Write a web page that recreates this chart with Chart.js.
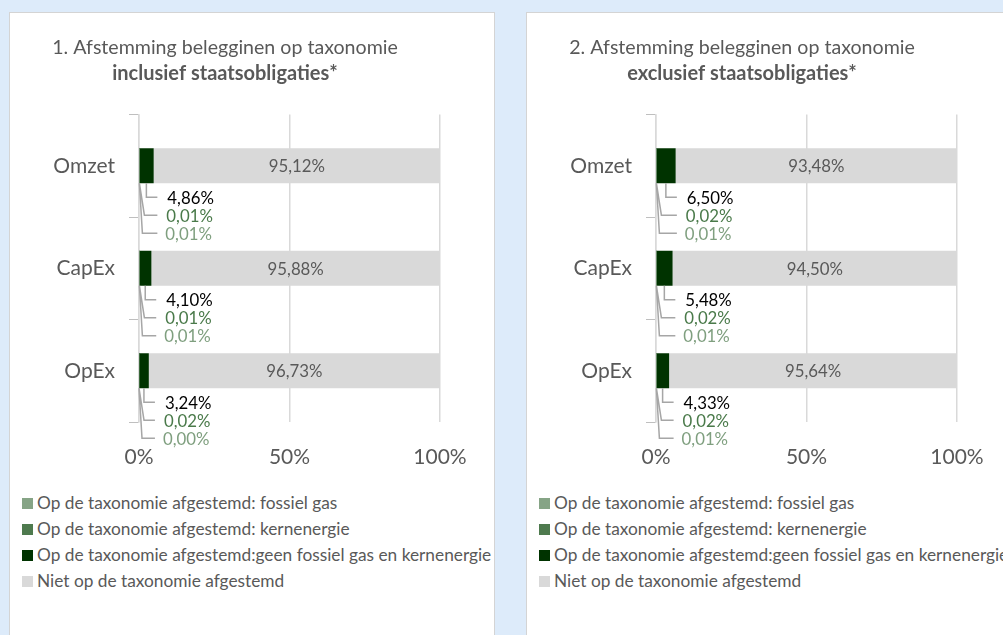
<!DOCTYPE html>
<html>
<head>
<meta charset="utf-8">
<script src="https://cdn.jsdelivr.net/npm/chart.js@4.4.1/dist/chart.umd.min.js"></script>
<style>
  html, body { margin: 0; padding: 0; }
  body { width: 1003px; height: 635px; overflow: hidden; position: relative; background: #ddebfa; font-family: Lato, sans-serif; }
  .card { position: absolute; top: 12px; width: 486px; height: 640px; background: #fff; border: 1px solid #d4d4d4; box-sizing: border-box; }
  .card canvas { position: absolute; left: 0; top: 0; }
  .legend { position: absolute; left: 12px; top: 477px; white-space: nowrap; color: #595959; font-size: 17.3px; }
  .legend div { height: 26px; line-height: 26px; display: flex; align-items: center; }
  .legend span.sw { display: inline-block; width: 11px; height: 11px; margin-right: 4px; }
</style>
</head>
<body>
<div class="card" style="left:9px"><canvas id="c1" width="484" height="460"></canvas><div class="legend" id="l1"></div></div>
<div class="card" style="left:526px"><canvas id="c2" width="484" height="460"></canvas><div class="legend" id="l2"></div></div>
<script>
// ---- data ----
const categories = ['Omzet', 'CapEx', 'OpEx'];
const seriesNames = [
  'Op de taxonomie afgestemd: fossiel gas',
  'Op de taxonomie afgestemd: kernenergie',
  'Op de taxonomie afgestemd:geen fossiel gas en kernenergie',
  'Niet op de taxonomie afgestemd'
];
const titles1 = ['1. Afstemming belegginen op taxonomie', 'inclusief staatsobligaties*'];
const titles2 = ['2. Afstemming belegginen op taxonomie', 'exclusief staatsobligaties*'];
const xTicks = [0, 50, 100];

// chart 1: inclusief staatsobligaties
const incFossiel = [0.01, 0.01, 0.00];
const incKern = [0.01, 0.01, 0.02];
const incGeen = [4.86, 4.10, 3.24];
const incNiet = [95.12, 95.88, 96.73];

// chart 2: exclusief staatsobligaties
const excFossiel = [0.01, 0.01, 0.01];
const excKern = [0.02, 0.02, 0.02];
const excGeen = [6.50, 5.48, 4.33];
const excNiet = [93.48, 94.50, 95.64];

// ---- styling ----
const colors = ['#86a486', '#4e7a4e', '#003300', '#d9d9d9'];
const labelColors = ['#7f9f7f', '#4a7a4a', '#000000', '#595959'];
const textGrey = '#595959';
const FONT = 'Lato';

function fmt(v) { return v.toFixed(2).replace('.', ',') + '%'; }

const labelPlugin = {
  id: 'stackLabels',
  afterDatasetsDraw(chart) {
    const ctx = chart.ctx;
    const mF = chart.getDatasetMeta(0), mG = chart.getDatasetMeta(2), mN = chart.getDatasetMeta(3);
    const ds = chart.data.datasets;
    ctx.save();
    ctx.font = '16.8px ' + FONT;
    ctx.textBaseline = 'middle';
    for (let i = 0; i < chart.data.labels.length; i++) {
      // grey segment label
      const en = mN.data[i];
      ctx.fillStyle = labelColors[3];
      ctx.textAlign = 'center';
      ctx.fillText(fmt(ds[3].data[i]), (en.x + en.base) / 2, en.y + 1);

      const eg = mG.data[i];
      const bottom = eg.y + eg.height / 2;
      const mid = (eg.x + eg.base) / 2;
      const start = (mF.data[i].x + mF.data[i].base) / 2;
      const lx = mid + 21;
      const ys = [bottom + 14, bottom + 32, bottom + 50];
      // leader lines
      ctx.strokeStyle = '#a6a6a6';
      ctx.lineWidth = 1.5;
      ctx.beginPath();
      ctx.moveTo(mid, bottom); ctx.lineTo(mid, ys[0]); ctx.lineTo(lx - 10, ys[0]);
      ctx.moveTo(start, bottom); ctx.lineTo(start + 5, ys[1]); ctx.lineTo(lx - 10, ys[1]);
      ctx.moveTo(start, bottom); ctx.lineTo(start + 3, ys[2]); ctx.lineTo(lx - 10, ys[2]);
      ctx.stroke();
      // texts
      ctx.textAlign = 'left';
      ctx.fillStyle = labelColors[2];
      ctx.fillText(fmt(ds[2].data[i]), lx, ys[0] + 1);
      ctx.fillStyle = labelColors[1];
      ctx.fillText(fmt(ds[1].data[i]), lx - 1, ys[1] + 1);
      ctx.fillStyle = labelColors[0];
      ctx.fillText(fmt(ds[0].data[i]), lx - 2, ys[2] + 1);
    }
    ctx.restore();
  }
};

function makeChart(id, titles, fossiel, kern, geen, niet) {
  const values = [fossiel, kern, geen, niet];
  return new Chart(document.getElementById(id), {
    type: 'bar',
    data: {
      labels: categories,
      datasets: seriesNames.map((n, k) => ({
        label: n,
        data: values[k],
        backgroundColor: colors[k],
        borderWidth: 0,
        categoryPercentage: 1,
        barPercentage: 0.34
      }))
    },
    options: {
      indexAxis: 'y',
      responsive: false,
      animation: false,
      devicePixelRatio: 1,
      layout: { padding: { left: 0, right: 54, top: 0, bottom: 0 } },
      plugins: {
        legend: { display: false },
        tooltip: { enabled: false },
        title: {
          display: true,
          text: titles[0],
          color: textGrey,
          font: { family: FONT, size: 19.6, weight: 'normal', lineHeight: 1.2 },
          padding: { top: 23, bottom: 2 }
        },
        subtitle: {
          display: true,
          text: titles[1],
          color: textGrey,
          font: { family: FONT, size: 20, weight: 'bold', lineHeight: 1.2 },
          padding: { top: 0, bottom: 29 }
        }
      },
      scales: {
        x: {
          stacked: true,
          min: 0,
          max: 100,
          afterBuildTicks(scale) { scale.ticks = xTicks.map(v => ({ value: v })); },
          afterFit(scale) { scale.height = 51; },
          ticks: {
            callback: v => v + '%',
            color: textGrey,
            font: { family: FONT, size: 21 },
            padding: 23,
            maxRotation: 0
          },
          grid: { color: '#d9d9d9', lineWidth: 1.5, drawTicks: false },
          border: { display: false }
        },
        y: {
          stacked: true,
          afterFit(scale) { scale.width = 129; },
          ticks: { color: textGrey, font: { family: FONT, size: 21 }, padding: 14 },
          grid: { offset: true, drawOnChartArea: false, drawTicks: true, tickLength: 10, color: '#bfbfbf', lineWidth: 1 },
          border: { display: true, color: '#d9d9d9', width: 1.5 }
        }
      }
    },
    plugins: [labelPlugin]
  });
}

function makeLegend(id) {
  const el = document.getElementById(id);
  seriesNames.forEach((n, k) => {
    const row = document.createElement('div');
    const sw = document.createElement('span');
    sw.className = 'sw';
    sw.style.background = colors[k];
    row.appendChild(sw);
    row.appendChild(document.createTextNode(n));
    el.appendChild(row);
  });
}

function init() {
  makeChart('c1', titles1, incFossiel, incKern, incGeen, incNiet);
  makeChart('c2', titles2, excFossiel, excKern, excGeen, excNiet);
  makeLegend('l1');
  makeLegend('l2');
}
if (document.fonts && document.fonts.load) {
  Promise.all([
    document.fonts.load('16px Lato'),
    document.fonts.load('bold 19px Lato')
  ]).then(init, init);
} else {
  init();
}
</script>
</body>
</html>
